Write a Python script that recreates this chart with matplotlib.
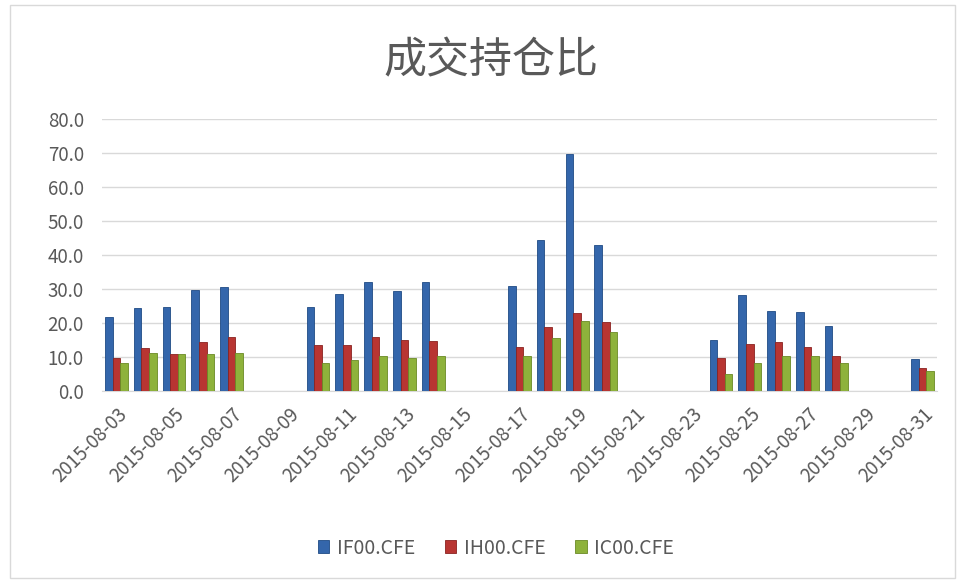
import matplotlib
matplotlib.use("Agg")
import matplotlib.pyplot as plt
import numpy as np
import pandas as pd

plt.rcParams['font.family'] = ['Noto Sans CJK SC', 'DejaVu Sans']

dates = ["2015-08-03", "2015-08-04", "2015-08-05", "2015-08-06", "2015-08-07",
         "2015-08-10", "2015-08-11", "2015-08-12", "2015-08-13", "2015-08-14",
         "2015-08-17", "2015-08-18", "2015-08-19", "2015-08-20",
         "2015-08-24", "2015-08-25", "2015-08-26", "2015-08-27", "2015-08-28",
         "2015-08-31"]
if00 = [21.8, 24.4, 24.8, 29.7, 30.5,
        24.8, 28.5, 32.0, 29.3, 32.0,
        30.9, 44.4, 69.6, 42.8,
        15.1, 28.2, 23.6, 23.2, 19.1,
        9.3]
ih00 = [9.7, 12.7, 10.9, 14.3, 15.8,
        13.4, 13.4, 15.8, 15.1, 14.6,
        13.0, 18.7, 22.9, 20.3,
        9.7, 13.8, 14.3, 13.0, 10.4,
        6.7]
ic00 = [8.2, 11.3, 10.9, 10.9, 11.3,
        8.2, 9.0, 10.4, 9.7, 10.4,
        10.4, 15.7, 20.7, 17.3,
        5.1, 8.2, 10.4, 10.4, 8.2,
        6.0]
series_names = ["IF00.CFE", "IH00.CFE", "IC00.CFE"]
colors = ["#3466AB", "#B83532", "#8EB23B"]
edges = ["#1F4A85", "#8A2220", "#6A8A25"]
title = "成交持仓比"

start = pd.Timestamp("2015-08-03")
end = pd.Timestamp("2015-08-31")
x = np.array([(pd.Timestamp(d) - start).days for d in dates], dtype=float)
ndays = (end - start).days + 1

fig = plt.figure(figsize=(9.6, 5.81), dpi=100)
fig.patches.append(plt.Rectangle((10/960, 3/581), 945/960, 573/581, transform=fig.transFigure,
                                 fill=False, edgecolor="#D9D9D9", linewidth=1))
ax = fig.add_axes([102/960, (581-391)/581, 835/960, (391-119)/581])

w = 0.265
for i, (vals, c, ec, name) in enumerate(zip([if00, ih00, ic00], colors, edges, series_names)):
    ax.bar(x + (i - 1) * w, vals, width=w, color=c, edgecolor=ec, linewidth=0.6, label=name, zorder=3)

ax.set_xlim(-0.5, ndays - 0.5)
ax.set_ylim(0, 80)
ax.set_yticks(np.arange(0, 81, 10))
ax.set_yticklabels([f"{v:.1f}" for v in np.arange(0, 81, 10)], fontsize=13.5, color="#595959")
ax.yaxis.grid(True, color="#D9D9D9", linewidth=1, zorder=0)
ax.set_axisbelow(True)
for s in ["top", "right", "left"]:
    ax.spines[s].set_visible(False)
ax.spines["bottom"].set_color("#D9D9D9")
ax.tick_params(axis="y", length=0, pad=13)
ax.tick_params(axis="x", length=0, pad=9)

tick_pos = np.arange(0, ndays, 2)
tick_lab = [(start + pd.Timedelta(days=int(p))).strftime("%Y-%m-%d") for p in tick_pos]
ax.set_xticks(tick_pos)
ax.set_xticklabels(tick_lab, rotation=45, ha="right", va="top", rotation_mode="anchor",
                   fontsize=13.5, color="#595959")

fig.suptitle(title, x=491/960, y=1 - 61/581, va="center", fontsize=31, color="#595959")

leg = fig.legend(loc="center", bbox_to_anchor=(496/960, 1 - 548/581), ncol=3, frameon=False,
                 fontsize=14, handlelength=0.6, handleheight=0.6, handletextpad=0.4,
                 columnspacing=1.5, labelcolor="#595959")

fig.savefig("out.png", dpi=100)
